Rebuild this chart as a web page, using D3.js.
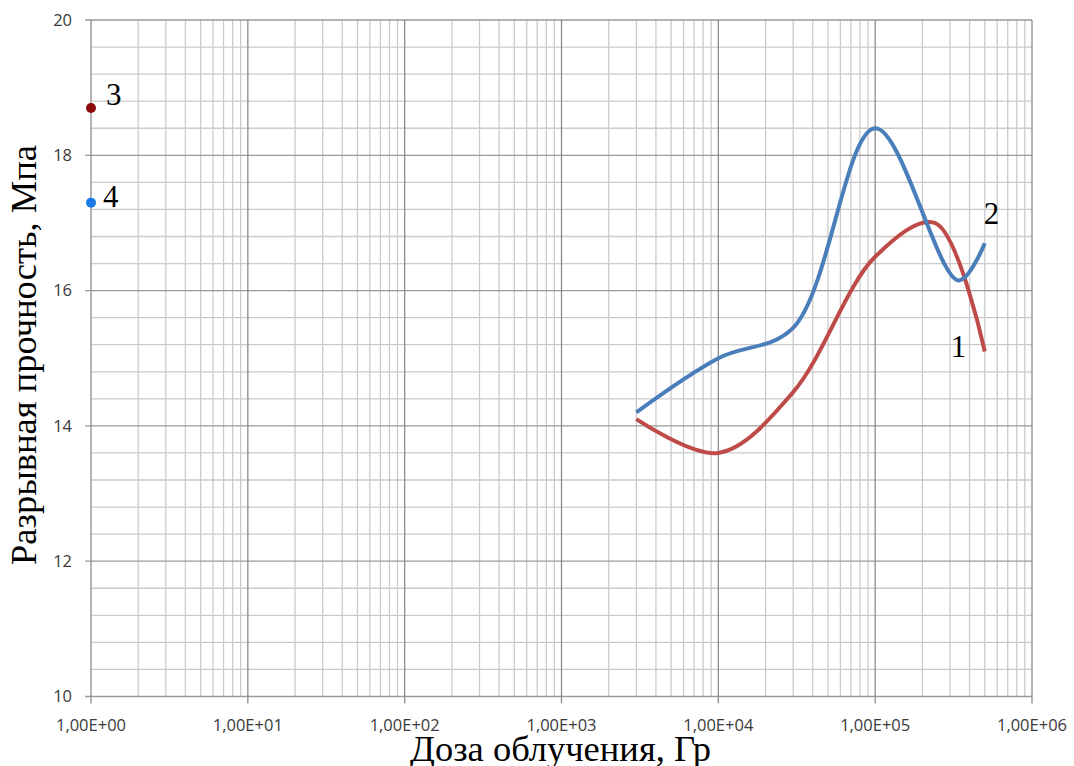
<!DOCTYPE html>
<html>
<head>
<meta charset="utf-8">
<script src="https://cdn.jsdelivr.net/npm/d3@7"></script>
<style>
    body { margin: 0; background: #fff; }
    .tick-label { font-family: "Open Sans", "DejaVu Sans", sans-serif; font-size: 16.5px; fill: #3a3a3a; }
    .axis-title { font-family: "Liberation Serif", serif; fill: #000; }
    .num-label { font-family: "Liberation Serif", serif; font-size: 31px; fill: #000; }
</style>
</head>
<body>
<div id="chart"></div>
<script>
// curve 1 (red) and curve 2 (blue): dose, Gy -> strength, MPa
var dose1 = [3000, 10000, 30000, 100000, 240000, 500000];
var strength1 = [14.1, 13.6, 14.5, 16.5, 17.0, 15.1];
var dose2 = [3000, 10000, 30000, 100000, 340000, 500000];
var strength2 = [14.2, 15.0, 15.45, 18.4, 16.15, 16.7];

// single points 3 and 4 at dose 1
var pointDose = [1, 1];
var pointStrength = [18.7, 17.3];
var pointNames = ["3", "4"];

var xTicks = [1, 10, 100, 1000, 10000, 100000, 1000000];
var xTickLabels = ["1,00E+00", "1,00E+01", "1,00E+02", "1,00E+03", "1,00E+04", "1,00E+05", "1,00E+06"];
var yTicks = [10, 12, 14, 16, 18, 20];

var xTitle = "Доза облучения, Гр";
var yTitle = "Разрывная прочность, Мпа";

// set the dimensions and margins of the graph
var margin = { top: 20, right: 42, bottom: 70, left: 91 };

var svg = d3.select("#chart")
    .append("svg")
    .attr("width", 1074)
    .attr("height", 766)
    .append("g")
    .attr("transform", "translate(" + margin.left + "," + margin.top + ")");

var x = d3.scaleLog().domain([1, 1e6]).range([0, 941]);
var y = d3.scaleLinear().domain([10, 20]).range([676.5, 0]);
var plotW = x(1e6), plotH = y(10);

// minor vertical gridlines (2..9 in every decade)
var minorX = [];
for (var e = 0; e < 6; e++) {
    for (var m = 2; m < 10; m++) minorX.push(m * Math.pow(10, e));
}
svg.selectAll(".vminor")
    .data(minorX)
    .enter()
    .append("line")
    .attr("x1", d => x(d)).attr("x2", d => x(d))
    .attr("y1", 0).attr("y2", plotH)
    .attr("stroke", "#cbcbcb").attr("stroke-width", 1.3);

// minor horizontal gridlines every 0.4
var minorY = d3.range(10.4, 20, 0.4).filter(v => Math.abs(v / 2 - Math.round(v / 2)) > 0.01);
svg.selectAll(".hminor")
    .data(minorY)
    .enter()
    .append("line")
    .attr("x1", 0).attr("x2", plotW)
    .attr("y1", d => y(d)).attr("y2", d => y(d))
    .attr("stroke", "#cbcbcb").attr("stroke-width", 1.3);

// major gridlines
svg.selectAll(".hmajor")
    .data(yTicks)
    .enter()
    .append("line")
    .attr("x1", -6).attr("x2", plotW)
    .attr("y1", d => y(d)).attr("y2", d => y(d))
    .attr("stroke", "#9a9a9a").attr("stroke-width", 1.3);

svg.selectAll(".vmajor")
    .data(xTicks)
    .enter()
    .append("line")
    .attr("x1", d => x(d)).attr("x2", d => x(d))
    .attr("y1", 0).attr("y2", plotH + 7)
    .attr("stroke", "#8c8c8c").attr("stroke-width", 1.3);

// tick labels
svg.selectAll(".ylab")
    .data(yTicks)
    .enter()
    .append("text")
    .attr("class", "tick-label")
    .attr("x", -19)
    .attr("y", d => y(d))
    .attr("dy", "0.35em")
    .attr("text-anchor", "end")
    .text(d => d);

svg.selectAll(".xlab")
    .data(xTicks)
    .enter()
    .append("text")
    .attr("class", "tick-label")
    .attr("x", d => x(d))
    .attr("y", plotH + 34)
    .attr("text-anchor", "middle")
    .text((d, i) => xTickLabels[i]);

// the two smoothed curves
var line = d3.line()
    .x(d => x(d[0]))
    .y(d => y(d[1]))
    .curve(d3.curveCatmullRom.alpha(0.5));

svg.append("path")
    .datum(d3.zip(dose1, strength1))
    .attr("d", line)
    .attr("fill", "none")
    .attr("stroke", "#be4b48")
    .attr("stroke-width", 4);

svg.append("path")
    .datum(d3.zip(dose2, strength2))
    .attr("d", line)
    .attr("fill", "none")
    .attr("stroke", "#4a7ebb")
    .attr("stroke-width", 4);

// single points
var pointColors = ["#8b0a0a", "#1a7ae6"];
var labelShift = [[15, -3], [12, 4]];
svg.selectAll(".dot")
    .data(pointDose)
    .enter()
    .append("circle")
    .attr("cx", d => x(d))
    .attr("cy", (d, i) => y(pointStrength[i]))
    .attr("r", 5)
    .attr("fill", (d, i) => pointColors[i]);

svg.selectAll(".ptlab")
    .data(pointDose)
    .enter()
    .append("text")
    .attr("class", "num-label")
    .attr("x", (d, i) => x(d) + labelShift[i][0])
    .attr("y", (d, i) => y(pointStrength[i]) + labelShift[i][1])
    .text((d, i) => pointNames[i]);

// curve numbers
svg.append("text").attr("class", "num-label")
    .attr("x", x(dose1[5]) - 34).attr("y", y(strength1[5]) + 6)
    .text("1");
svg.append("text").attr("class", "num-label")
    .attr("x", x(dose2[5]) - 1).attr("y", y(strength2[5]) - 19)
    .text("2");

// axis titles
svg.append("text")
    .attr("class", "axis-title")
    .attr("x", plotW / 2 - 1)
    .attr("y", plotH + 64)
    .attr("text-anchor", "middle")
    .style("font-size", "36.5px")
    .text(xTitle);

svg.append("text")
    .attr("class", "axis-title")
    .attr("transform", "rotate(-90)")
    .attr("x", -(355 - margin.top))
    .attr("y", 36 - margin.left)
    .attr("text-anchor", "middle")
    .style("font-size", "36.5px")
    .text(yTitle);
</script>
</body>
</html>
